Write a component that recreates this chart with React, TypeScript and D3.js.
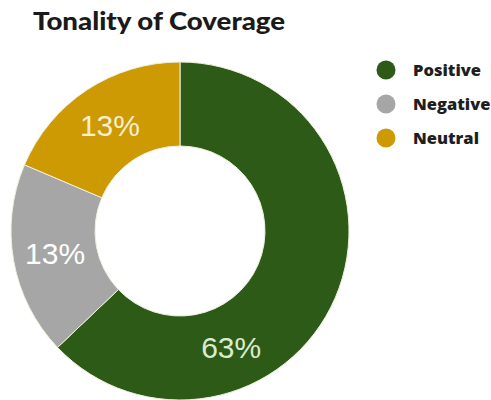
import React from "react";
import * as d3 from "d3";

const categories = ["Positive", "Negative", "Neutral"];
const sliceShares = [62.9, 18.5, 18.6];
const sliceLabels = ["63%", "13%", "13%"];
const colors = ["#2d5a16", "#a6a6a6", "#cd9a03"];
const labelColors = ["#dcebcf", "#ffffff", "#f7efcf"];
const labelAt = [0.69, 0.5, 0.5];
const title = "Tonality of Coverage";

const W = 491;
const H = 400;
const cx = 180;
const cy = 231;
const outerR = 169;
const innerR = 85;

export default function App() {
  const pie = d3
    .pie<number>()
    .sort(null)
    .value((d) => d)(sliceShares);
  const arc = d3.arc<d3.PieArcDatum<number>>().innerRadius(innerR).outerRadius(outerR);
  const labelArc = d3.arc<any>().innerRadius(innerR).outerRadius(outerR);

  const legendY = d3.scalePoint<string>().domain(categories).range([70, 138]);

  return (
    <svg
      width={W}
      height={H}
      style={{ position: "absolute", left: 0, top: 0, background: "#fff" }}
    >
      <text
        x={33}
        y={30}
        fontFamily="Lato, 'Open Sans', sans-serif"
        fontWeight={900}
        fontSize={24}
        fill="#1a1a1a"
        textLength={252}
        lengthAdjust="spacingAndGlyphs"
      >
        {title}
      </text>
      <g transform={`translate(${cx},${cy})`}>
        {pie.map((p, i) => (
          <path key={i} d={arc(p) || ""} fill={colors[i]} stroke="#eef0dc" strokeWidth={1} />
        ))}
        {pie.map((p, i) => {
          const a = p.startAngle + (p.endAngle - p.startAngle) * labelAt[i];
          const [lx, ly] = labelArc.centroid({ startAngle: a, endAngle: a });
          return (
            <text
              key={i}
              x={lx}
              y={ly}
              textAnchor="middle"
              dominantBaseline="central"
              fontFamily="'Liberation Sans', Arial, sans-serif"
              fontSize={30}
              fill={labelColors[i]}
            >
              {sliceLabels[i]}
            </text>
          );
        })}
      </g>
      {categories.map((c, i) => (
        <g key={c} transform={`translate(386,${legendY(c)})`}>
          <circle r={9.5} fill={colors[i]} />
          <text
            x={27}
            y={6}
            fontFamily="'Open Sans', sans-serif"
            fontWeight={800}
            fontSize={16.5}
            fill="#1e1e1e"
          >
            {c}
          </text>
        </g>
      ))}
    </svg>
  );
}
